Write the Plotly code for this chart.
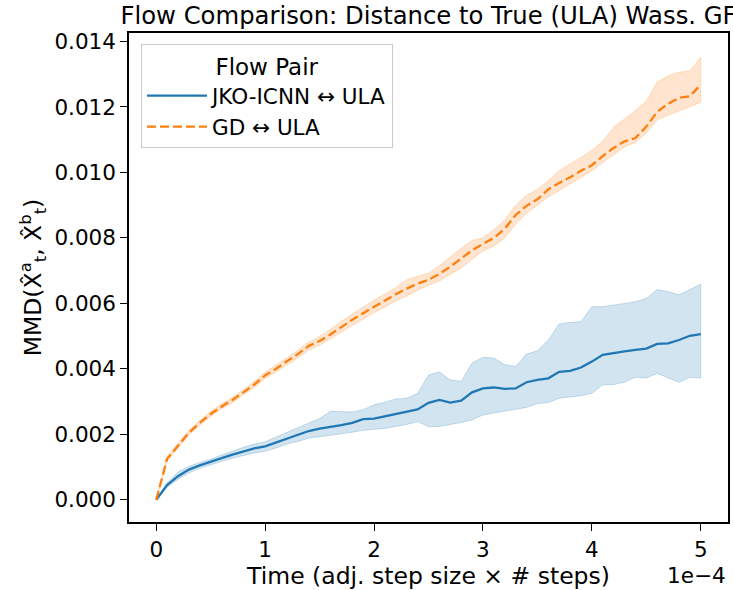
import plotly.graph_objects as go

# ---------------- data ----------------
TIME_SCALE = 1e-4
time_units = [0.0, 0.1, 0.2, 0.3, 0.4, 0.5, 0.6, 0.7, 0.8, 0.9,
              1.0, 1.1, 1.2, 1.3, 1.4, 1.5, 1.6, 1.7, 1.8, 1.9,
              2.0, 2.1, 2.2, 2.3, 2.4, 2.5, 2.6, 2.7, 2.8, 2.9,
              3.0, 3.1, 3.2, 3.3, 3.4, 3.5, 3.6, 3.7, 3.8, 3.9,
              4.0, 4.1, 4.2, 4.3, 4.4, 4.5, 4.6, 4.7, 4.8, 4.9, 5.0]

jko_mean = [0, .00045, .00072, .00092, .00105, .00115, .00127, .00138, .00148, .00157,
            .00163, .00175, .00188, .00198, .00210, .00217, .00222, .00228, .00235, .00246,
            .00248, .00255, .00262, .00268, .00276, .00296, .00305, .00297, .00303, .00328,
            .00340, .00343, .00339, .00340, .00359, .00366, .00371, .00391, .00394, .00404,
            .00422, .00443, .00447, .00453, .00458, .00462, .00476, .00478, .00488, .00501, .00506]
jko_lo = [0, .00038, .00062, .00082, .00096, .00106, .00117, .00127, .00136, .00143,
          .00148, .00158, .00170, .00178, .00188, .00193, .00198, .00202, .00206, .00212,
          .00215, .00218, .00224, .00230, .00239, .00223, .00224, .00229, .00236, .00244,
          .00259, .00265, .00272, .00277, .00282, .00294, .00297, .00310, .00313, .00318,
          .00325, .00351, .00352, .00359, .00374, .00372, .00386, .00372, .00359, .00374, .00372]
jko_hi = [0, .00052, .00085, .00102, .00114, .00124, .00137, .00149, .00160, .00170,
          .00177, .00192, .00206, .00218, .00233, .00248, .00270, .00268, .00268, .00275,
          .00290, .00298, .00308, .00310, .00325, .00381, .00391, .00366, .00362, .00418,
          .00435, .00433, .00413, .00407, .00445, .00455, .00488, .00537, .00542, .00544,
          .00590, .00590, .00595, .00601, .00605, .00615, .00642, .00636, .00626, .00642, .00659]

gd_mean = [0, .00125, .00165, .00205, .00235, .00262, .00285, .00305, .00328, .00352,
           .00380, .00400, .00423, .00445, .00470, .00485, .00505, .00528, .00550, .00570,
           .00590, .00608, .00628, .00645, .00660, .00672, .00690, .00712, .00738, .00762,
           .00782, .00800, .00828, .00870, .00898, .00918, .00948, .00968, .00985, .01005,
           .01022, .01050, .01075, .01095, .01105, .01140, .01185, .01210, .01228, .01233, .01268]
gd_lo = [0, .00118, .00158, .00198, .00228, .00255, .00278, .00297, .00320, .00343,
         .00370, .00390, .00412, .00433, .00457, .00472, .00490, .00512, .00532, .00552,
         .00572, .00588, .00608, .00622, .00640, .00655, .00668, .00688, .00708, .00735,
         .00760, .00775, .00800, .00842, .00875, .00900, .00925, .00945, .00965, .00985,
         .01005, .01030, .01055, .01078, .01092, .01120, .01160, .01175, .01188, .01200, .01214]
gd_hi = [0, .00132, .00172, .00212, .00242, .00270, .00293, .00313, .00337, .00361,
         .00390, .00411, .00434, .00457, .00482, .00499, .00520, .00545, .00568, .00589,
         .00610, .00628, .00648, .00672, .00682, .00692, .00715, .00742, .00768, .00792,
         .00800, .00825, .00855, .00900, .00930, .00948, .00975, .01005, .01025, .01046,
         .01068, .01095, .01138, .01164, .01189, .01218, .01276, .01295, .01306, .01310, .01352]

series_names = ["JKO-ICNN \u2194 ULA", "GD \u2194 ULA"]
x_tick_units = [0, 1, 2, 3, 4, 5]
x_tick_labels = ["0", "1", "2", "3", "4", "5"]
y_tick_vals = [0.0, 0.002, 0.004, 0.006, 0.008, 0.010, 0.012, 0.014]
y_tick_labels = ["0.000", "0.002", "0.004", "0.006", "0.008", "0.010", "0.012", "0.014"]

# ---------------- figure ----------------
FONT = "DejaVu Sans"
x = [v * TIME_SCALE for v in time_units]

fig = go.Figure()

def add_series(mean, lo, hi, name, color, fillcol, edgecol, dash):
    fig.add_trace(go.Scatter(
        x=x + x[::-1], y=hi + lo[::-1], fill="toself", fillcolor=fillcol,
        line=dict(color=edgecol, width=1), mode="lines",
        showlegend=False, hoverinfo="skip"))
    fig.add_trace(go.Scatter(
        x=x, y=mean, mode="lines", name=name,
        line=dict(color=color, width=2.3, dash=dash)))

add_series(jko_mean, jko_lo, jko_hi, series_names[0], "#1f77b4",
           "rgba(31,119,180,0.2)", "rgba(31,119,180,0.22)", "solid")
add_series(gd_mean, gd_lo, gd_hi, series_names[1], "#ff7f0e",
           "rgba(255,127,14,0.2)", "rgba(255,127,14,0.22)", "9px,4px")

fig.update_layout(
    width=733, height=590,
    margin=dict(l=129, r=3, t=33, b=68),
    paper_bgcolor="white", plot_bgcolor="white",
    font=dict(family=FONT, color="black", size=21.5),
    title=dict(text="Flow Comparison: Distance to True (ULA) Wass. GF",
               x=0.5, xanchor="center", xref="paper",
               y=1 - 15 / 590, yanchor="middle",
               font=dict(size=24.3, family=FONT, color="black")),
    showlegend=True,
    legend=dict(
        x=0.02, y=0.977, xanchor="left", yanchor="top",
        bgcolor="rgba(255,255,255,0.8)", bordercolor="#cccccc", borderwidth=1,
        font=dict(size=21.5, family=FONT, color="black"),
        title=dict(text="Flow Pair", side="top center",
                   font=dict(size=23, family=FONT, color="black")),
        itemwidth=60,
    ),
)

fig.update_xaxes(
    range=[-0.25 * TIME_SCALE, 5.25 * TIME_SCALE],
    tickvals=[v * TIME_SCALE for v in x_tick_units], ticktext=x_tick_labels,
    ticks="outside", ticklen=7, tickwidth=1.3, tickcolor="black",
    showline=True, linecolor="black", linewidth=1.5, mirror=True,
    showgrid=False, zeroline=False,
    tickfont=dict(size=21.5, family=FONT, color="black"),
    title=dict(text="Time (adj. step size \u00d7 # steps)", standoff=8,
               font=dict(size=23.5, family=FONT, color="black")),
)
fig.update_yaxes(
    range=[-0.00068, 0.01426],
    tickvals=y_tick_vals, ticktext=y_tick_labels,
    ticks="outside", ticklen=7, tickwidth=1.3, tickcolor="black",
    showline=True, linecolor="black", linewidth=1.5, mirror=True,
    showgrid=False, zeroline=False,
    tickfont=dict(size=21.5, family=FONT, color="black"),
    title=dict(text="MMD(X\u0302<sup>a</sup><sub>t</sub>, X\u0302<sup>b</sup><sub>t</sub>)",
               standoff=6, font=dict(size=23.5, family=FONT, color="black")),
)

fig.add_annotation(
    text="1e\u22124", xref="paper", yref="paper", x=1.0, y=-53 / 489,
    xanchor="right", yanchor="middle", showarrow=False,
    font=dict(size=21.5, family=FONT, color="black"))

fig.write_html("out.html")
